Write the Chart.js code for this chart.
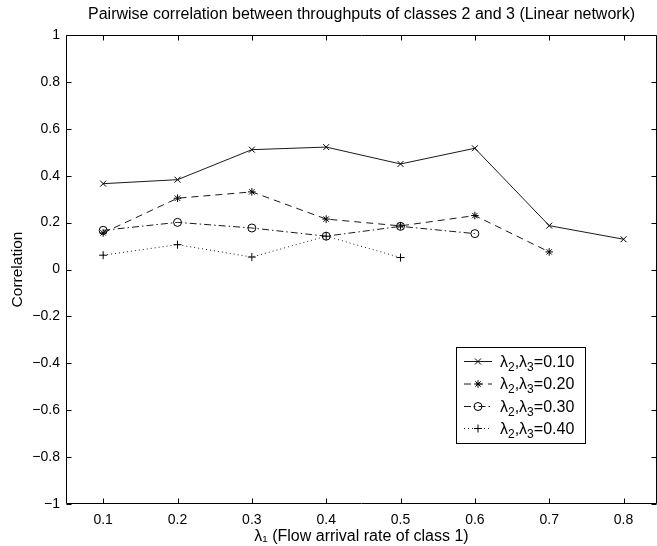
<!DOCTYPE html>
<html>
<head>
<meta charset="utf-8">
<script src="https://cdn.jsdelivr.net/npm/chart.js@4.4.0/dist/chart.umd.min.js"></script>
<style>
  html, body { margin: 0; padding: 0; background: #fff; }
  #wrap { width: 657px; height: 546px; }
</style>
</head>
<body>
<div id="wrap"><canvas id="c" width="657" height="546"></canvas></div>
<script>
// ---- Data ----
const lambda1 = [0.1, 0.2, 0.3, 0.4, 0.5, 0.6, 0.7, 0.8];
const corr010 = [0.366, 0.383, 0.511, 0.522, 0.450, 0.517, 0.187, 0.129];
const corr020 = [0.156, 0.304, 0.331, 0.215, 0.186, 0.230, 0.075];
const corr030 = [0.167, 0.201, 0.177, 0.142, 0.184, 0.153];
const corr040 = [0.061, 0.106, 0.053, 0.142, 0.051];
const seriesLabels = ["0.10", "0.20", "0.30", "0.40"];
const xTickValues = [0.1, 0.2, 0.3, 0.4, 0.5, 0.6, 0.7, 0.8];
const yTickValues = [-1, -0.8, -0.6, -0.4, -0.2, 0, 0.2, 0.4, 0.6, 0.8, 1];

const FONT = "'Liberation Sans', Arial, Helvetica, sans-serif";

function pts(ys) { return ys.map((y, i) => ({ x: lambda1[i], y: y })); }

const lineColor = '#1a1a1a';
const datasets = [
  { data: pts(corr010), borderDash: [], pointStyle: 'crossRot', pointRadius: 4.2 },
  { data: pts(corr020), borderDash: [7, 5], pointStyle: 'star', pointRadius: 3.8 },
  { data: pts(corr030), borderDash: [7, 3, 1.5, 3], pointStyle: 'circle', pointRadius: 4 },
  { data: pts(corr040), borderDash: [1, 3], pointStyle: 'cross', pointRadius: 4 }
].map((d, i) => Object.assign({
  label: 'λ2,λ3=' + seriesLabels[i],
  borderColor: lineColor,
  borderWidth: 1,
  pointBorderColor: '#000',
  pointBackgroundColor: 'rgba(0,0,0,0)',
  pointBorderWidth: 1,
  pointHoverRadius: 4,
  fill: false,
  tension: 0
}, d));

function fmt(v) {
  let s = (Math.round(v * 10) / 10).toString();
  if (s.charAt(0) === '-') s = '\u2212' + s.slice(1);
  return s;
}

function drawMarker(ctx, style, r, x, y) {
  ctx.fillStyle = 'rgba(0,0,0,0)';
  ctx.strokeStyle = '#000';
  ctx.lineWidth = 1;
  if (Chart.helpers && Chart.helpers.drawPoint) {
    Chart.helpers.drawPoint(ctx, { pointStyle: style, radius: r, borderWidth: 1, rotation: 0 }, x, y);
  }
}

const boxPlugin = {
  id: 'boxTicks',
  afterDraw(chart) {
    const ctx = chart.ctx;
    const a = chart.chartArea;
    const xs = chart.scales.x, ys = chart.scales.y;
    ctx.save();
    ctx.strokeStyle = '#000';
    ctx.lineWidth = 1;
    const L = Math.round(a.left) + 0.5, R = Math.round(a.right) - 0.5;
    const T = Math.round(a.top) + 0.5, B = Math.round(a.bottom) - 0.5;
    ctx.beginPath();
    ctx.rect(L, T, R - L, B - T);
    ctx.stroke();
    const tl = 5;
    ctx.beginPath();
    xTickValues.forEach(v => {
      const px = Math.round(xs.getPixelForValue(v)) + 0.5;
      ctx.moveTo(px, B); ctx.lineTo(px, B - tl);
      ctx.moveTo(px, T); ctx.lineTo(px, T + tl);
    });
    yTickValues.forEach(v => {
      const py = Math.round(ys.getPixelForValue(v)) + 0.5;
      ctx.moveTo(L, py); ctx.lineTo(L + tl, py);
      ctx.moveTo(R, py); ctx.lineTo(R - tl, py);
    });
    ctx.stroke();

    // Legend
    const lx = 456.5, ly = 347.5, lw = 129, lh = 96;
    ctx.fillStyle = '#fff';
    ctx.fillRect(lx, ly, lw, lh);
    ctx.strokeStyle = '#000';
    ctx.lineWidth = 1;
    ctx.strokeRect(lx, ly, lw, lh);
    const rowY = [361, 383.5, 406, 428];
    chart.data.datasets.forEach((ds, i) => {
      const y = rowY[i];
      ctx.save();
      ctx.strokeStyle = ds.borderColor;
      ctx.lineWidth = 1;
      ctx.setLineDash(ds.borderDash);
      ctx.beginPath();
      ctx.moveTo(464, y + 0.5); ctx.lineTo(492, y + 0.5);
      ctx.stroke();
      ctx.setLineDash([]);
      drawMarker(ctx, ds.pointStyle, ds.pointRadius, 478, y + 0.5);
      ctx.restore();
      // text with subscripts
      ctx.fillStyle = '#000';
      ctx.textBaseline = 'alphabetic';
      ctx.textAlign = 'left';
      let x = 500;
      const base = y + 5.5;
      const big = '16px ' + FONT, small = '12px ' + FONT;
      const parts = [['λ', big, 0], ['2', small, 4], [',λ', big, 0], ['3', small, 4], ['=' + seriesLabels[i], big, 0]];
      parts.forEach(p => {
        ctx.font = p[1];
        ctx.fillText(p[0], x, base + p[2]);
        x += ctx.measureText(p[0]).width;
      });
    });
    ctx.restore();
  }
};

new Chart(document.getElementById('c'), {
  type: 'line',
  data: { datasets: datasets },
  options: {
    responsive: false,
    animation: false,
    devicePixelRatio: 1,
    layout: { autoPadding: false, padding: { left: 0, right: 0, top: 0, bottom: 0 } },
    plugins: {
      legend: { display: false },
      tooltip: { enabled: false },
      title: {
        display: true,
        fullSize: false,
        text: 'Pairwise correlation between throughputs of classes 2 and 3 (Linear network)',
        color: '#000',
        font: { family: FONT, size: 16, weight: 'normal' },
        padding: { top: 5.4, bottom: 10.4 }
      }
    },
    scales: {
      x: {
        type: 'linear',
        min: 0.05,
        max: 0.845,
        afterBuildTicks: s => { s.ticks = xTickValues.map(v => ({ value: v })); },
        afterFit: s => { s.height = 42; s.paddingLeft = 0; s.paddingRight = 0; },
        grid: { display: false, drawTicks: false },
        border: { display: false },
        ticks: {
          color: '#000',
          font: { family: FONT, size: 14 },
          padding: 8,
          maxRotation: 0,
          autoSkip: false,
          callback: v => fmt(v)
        },
        title: {
          display: true,
          text: 'λ\u2081 (Flow arrival rate of class 1)',
          color: '#000',
          font: { family: FONT, size: 16 },
          padding: { top: 0, bottom: 0 }
        }
      },
      y: {
        type: 'linear',
        min: -1,
        max: 1,
        afterBuildTicks: s => { s.ticks = yTickValues.map(v => ({ value: v })); },
        afterFit: s => { s.width = 66; s.paddingTop = 0; s.paddingBottom = 0; },
        grid: { display: false, drawTicks: false },
        border: { display: false },
        ticks: {
          color: '#000',
          font: { family: FONT, size: 14 },
          padding: 6,
          autoSkip: false,
          callback: v => fmt(v)
        },
        title: {
          display: true,
          text: 'Correlation',
          color: '#000',
          font: { family: FONT, size: 15.5 },
          padding: { top: 8.7, bottom: 0 }
        }
      }
    }
  },
  plugins: [boxPlugin]
});
</script>
</body>
</html>
